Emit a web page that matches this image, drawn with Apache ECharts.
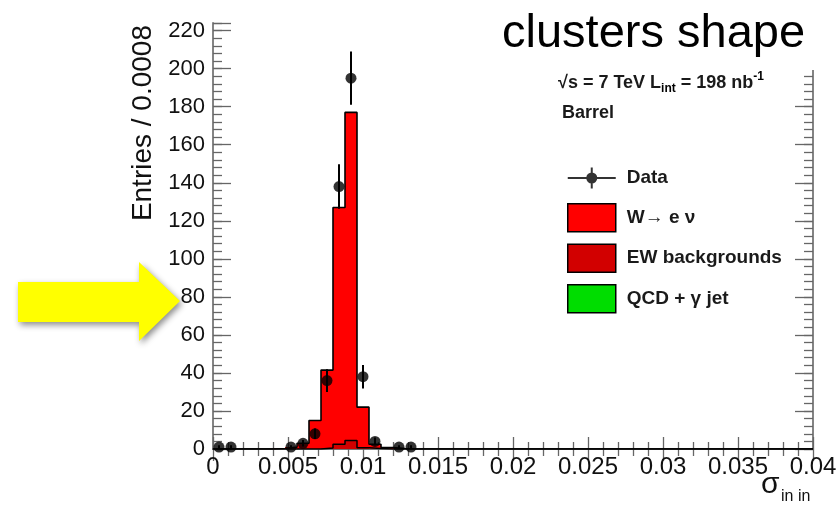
<!DOCTYPE html>
<html><head><meta charset="utf-8">
<script src="https://cdn.jsdelivr.net/npm/echarts@6/dist/echarts.min.js"></script>
<style>html,body{margin:0;padding:0;background:#fff}#c{width:839px;height:506px}</style>
</head><body><div id="c"></div>
<script>
// ---- data ----
const binWidth = 0.0008;           // "Entries / 0.0008"
const binStart = 0;
// bin contents (bins of width 0.0008 starting at 0); empty bins beyond are zero
const wenuCounts = [0, 0, 0, 0, 0, 0.3, 1.0, 3.0, 15, 41, 124.5, 172.5, 21.3, 2.3, 0.8, 0.3, 0, 0, 0, 0];
const ewCounts   = [0, 0, 0, 0, 0, 0,   0,   0,   0,  0.5, 2.5,  4.5,  0.7,  0.2, 0,   0,   0, 0, 0, 0];
const qcdCounts  = [0, 0, 0, 0, 0, 0,   0,   0,   0,  0,   0,    0,    0,    0,   0,   0,   0, 0, 0, 0];
const dataX   = [0.0004, 0.0012, 0.0052, 0.0060, 0.0068, 0.0076, 0.0084, 0.0092, 0.0100, 0.0108, 0.0124, 0.0132];
const dataY   = [1, 1, 1, 3, 8, 36, 138, 195, 38, 4, 1, 1];
const dataErr = [1, 1, 1, 1.7, 2.8, 6, 11.7, 14, 6.2, 2, 1, 1];
const xMin = 0, xMax = 0.04, xStep = 0.005;
const yMin = 0, yMax = 224, yStep = 20, yMinorStep = 4;
const seriesNames = ['Data', 'W\u2192 e \u03bd', 'EW backgrounds', 'QCD + \u03b3 jet'];
const titleText = 'clusters shape';
const yTitle = 'Entries / 0.0008';

// ---- build ----
const FONT = '"Liberation Sans", Arial, Helvetica, sans-serif';
const nBins = wenuCounts.length;
function edge(i) { return +(binStart + i * binWidth).toFixed(6); }
function binRects(counts, bases) {
  const out = [];
  for (let i = 0; i < counts.length; i++) {
    const b = bases ? bases[i] : 0;
    if (counts[i] > 0) out.push([edge(i), edge(i + 1), b, b + counts[i]]);
  }
  return out;
}
const totalCounts = wenuCounts.map((v, i) => v + ewCounts[i] + qcdCounts[i]);
const ewPlusQcd = ewCounts.map((v, i) => v + qcdCounts[i]);
function stepLine(counts) {
  const pts = counts.map((v, i) => [edge(i), v]);
  pts.push([edge(nBins), 0]);
  pts.push([xMax, 0]);
  return pts;
}
function rectRender(color) {
  return function (params, api) {
    const p0 = api.coord([api.value(0), api.value(2)]);
    const p1 = api.coord([api.value(1), api.value(3)]);
    return { type: 'rect', shape: { x: p0[0], y: p1[1], width: p1[0] - p0[0], height: p0[1] - p1[1] },
      style: { fill: color } };
  };
}
const dataPts = dataX.map((x, i) => [x, dataY[i]]);
const errItems = dataX.map((x, i) => [x, dataY[i] - dataErr[i], dataY[i] + dataErr[i]]);

const dataIcon = 'path://M0,0 L0.01,0 L0,0.01 Z M48,28 L47.99,28 L48,27.99 Z ' +
  'M0,13 L48,13 L48,15 L0,15 Z M23,3.5 L25,3.5 L25,24.5 L23,24.5 Z ' +
  'M29.5,14 A5.5,5.5 0 1 1 18.5,14 A5.5,5.5 0 1 1 29.5,14 Z';

const tickCol = '#666';
function yAx(pos, interval, tickLen, showLabel, showLine) {
  return {
    type: 'value', position: pos, min: yMin, max: yMax, interval: interval,
    axisLine: { show: showLine, lineStyle: { color: '#777', width: 1.8 } },
    axisTick: { show: true, inside: true, length: tickLen, lineStyle: { color: tickCol, width: 1.3 } },
    axisLabel: { show: showLabel, fontSize: 22, color: '#111', fontFamily: FONT, margin: 8,
      formatter: v => (Math.round(v) % 20 === 0 ? String(Math.round(v)) : '') },
    splitLine: { show: false }
  };
}
function xAx(pos, showLabel, lineCol) {
  return {
    type: 'value', position: pos, min: xMin, max: xMax, interval: xStep,
    axisLine: { show: true, lineStyle: { color: lineCol, width: 1.8 } },
    axisTick: { show: true, inside: true, length: 12, lineStyle: { color: tickCol, width: 1.3 } },
    minorTick: { show: true, splitNumber: 5, length: 7, lineStyle: { color: tickCol, width: 1.3 } },
    axisLabel: { show: showLabel, fontSize: 24, color: '#111', fontFamily: FONT, margin: 6,
      showMinLabel: true, showMaxLabel: true },
    splitLine: { show: false }, minorSplitLine: { show: false }
  };
}

const chart = echarts.init(document.getElementById('c'), null, { renderer: 'canvas' });
chart.setOption({
  backgroundColor: '#fff',
  animation: false,
  title: {
    text: titleText, left: 488, top: 2, padding: [9, 36, 12, 14], backgroundColor: '#fff', z: 20,
    textStyle: { fontSize: 47, fontWeight: 'normal', color: '#000', fontFamily: FONT }
  },
  grid: { left: 213, top: 23, width: 600, height: 426, containLabel: false, outerBoundsMode: 'none' },
  xAxis: [xAx('bottom', true, '#111'), xAx('top', false, '#777')],
  yAxis: [
    yAx('left', yStep, 18, true, true),
    yAx('left', yMinorStep, 9, false, false),
    yAx('right', yStep, 18, false, true),
    yAx('right', yMinorStep, 9, false, false)
  ],
  legend: {
    orient: 'vertical', left: 562, top: 159, itemWidth: 48, itemHeight: 28, itemGap: 11,
    selectedMode: false,
    textStyle: { fontFamily: FONT, fontSize: 19, fontWeight: 'bold', color: '#1a1a1a', padding: [0, 0, 0, 6] },
    itemStyle: { borderColor: '#000', borderWidth: 1.5 },
    data: [
      { name: seriesNames[0], icon: dataIcon, itemStyle: { color: '#000', borderWidth: 0 } },
      { name: seriesNames[1], icon: 'rect' },
      { name: seriesNames[2], icon: 'rect' },
      { name: seriesNames[3], icon: 'rect' }
    ]
  },
  graphic: [
    { type: 'text', x: 143, y: 25, rotation: Math.PI / 2, z: 10,
      style: { text: yTitle, font: '28px ' + FONT, fill: '#111', textAlign: 'right', textVerticalAlign: 'middle' } },
    { type: 'text', x: 761, y: 484.5, z: 10,
      style: { text: '\u03c3', font: '30px ' + FONT, fill: '#111', textAlign: 'left', textVerticalAlign: 'middle' } },
    { type: 'text', x: 781, y: 496.5, z: 10,
      style: { text: 'in in', font: '16px ' + FONT, fill: '#111', textAlign: 'left', textVerticalAlign: 'middle' } },
    { type: 'text', x: 558, y: 83, z: 10,
      style: { text: '{m|\u221As = 7 TeV L}{s|int}{m| = 198 nb}{p|-1}', textVerticalAlign: 'middle', textAlign: 'left',
        rich: {
          m: { fontSize: 18, fontWeight: 'bold', fontFamily: FONT, lineHeight: 24, fill: '#1a1a1a', color: '#1a1a1a' },
          s: { fontSize: 12, fontWeight: 'bold', fontFamily: FONT, lineHeight: 12, verticalAlign: 'bottom', color: '#1a1a1a' },
          p: { fontSize: 12, fontWeight: 'bold', fontFamily: FONT, lineHeight: 12, verticalAlign: 'top', color: '#1a1a1a' }
        } } },
    { type: 'text', x: 562, y: 113, z: 10,
      style: { text: 'Barrel', font: 'bold 18px ' + FONT, fill: '#1a1a1a', textAlign: 'left', textVerticalAlign: 'middle' } },
    { type: 'polygon', z: 10,
      shape: { points: [[18, 282], [139, 282], [139, 262], [180, 301], [139, 341], [139, 322], [18, 322]] },
      style: { fill: '#ffff00', shadowBlur: 6, shadowColor: 'rgba(0,0,0,0.45)', shadowOffsetX: 2, shadowOffsetY: 3 } }
  ],
  series: [
    { name: seriesNames[2], type: 'custom', itemStyle: { color: '#d20000' },
      renderItem: rectRender('#d20000'), encode: { x: [0, 1], y: [2, 3] },
      data: binRects(ewCounts, qcdCounts), z: 2 },
    { name: seriesNames[1], type: 'custom', itemStyle: { color: '#ff0000' },
      renderItem: rectRender('#ff0000'), encode: { x: [0, 1], y: [2, 3] },
      data: binRects(wenuCounts, ewPlusQcd), z: 2 },
    { name: seriesNames[3], type: 'custom', itemStyle: { color: '#00dd00' },
      renderItem: rectRender('#00dd00'), encode: { x: [0, 1], y: [2, 3] },
      data: binRects(qcdCounts, null), z: 2 },
    { name: 'totalOutline', type: 'line', step: 'end', symbol: 'none', silent: true, z: 3,
      lineStyle: { color: '#000', width: 1.6 }, data: stepLine(totalCounts) },
    { name: 'ewOutline', type: 'line', step: 'end', symbol: 'none', silent: true, z: 3,
      lineStyle: { color: '#000', width: 1.5 }, data: stepLine(ewPlusQcd) },
    { name: 'dataErr', type: 'custom', z: 4, silent: true,
      renderItem: function (params, api) {
        const a = api.coord([api.value(0), api.value(1)]);
        const b = api.coord([api.value(0), api.value(2)]);
        return { type: 'line', shape: { x1: a[0], y1: a[1], x2: b[0], y2: b[1] }, style: { stroke: '#000', lineWidth: 2 } };
      },
      encode: { x: 0, y: [1, 2] }, data: errItems },
    { name: seriesNames[0], type: 'scatter', z: 5, symbol: 'circle', symbolSize: 11,
      itemStyle: { color: '#000' }, data: dataPts }
  ]
});
</script></body></html>
